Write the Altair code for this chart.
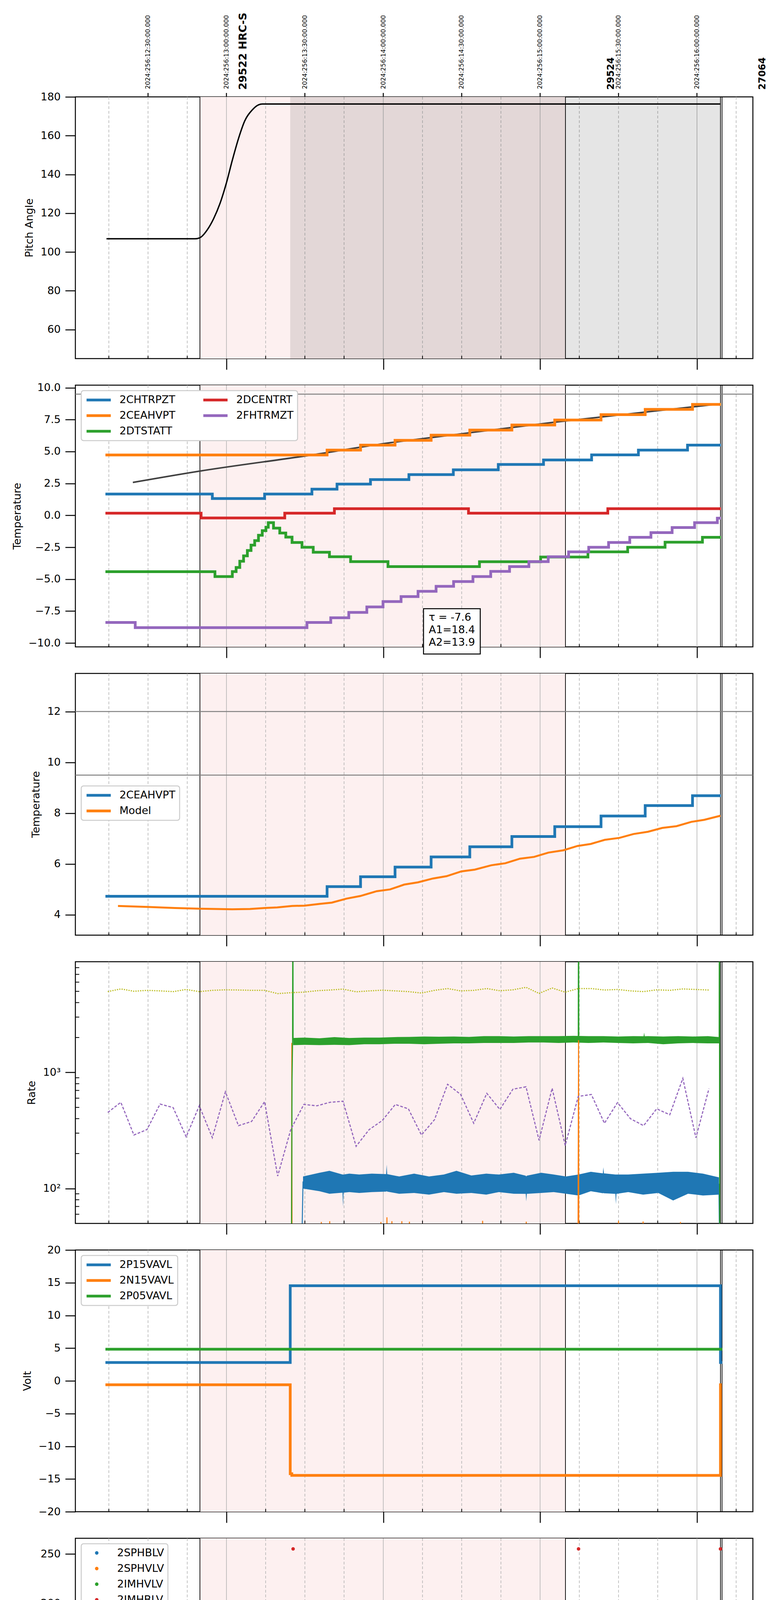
import altair as alt
import pandas as pd

FONT = "DejaVu Sans"
W, H = 1735, 670
X_DOMAIN = [2.2, 261.4]          # minutes after 08:00 local time

BLUE, ORANGE, GREEN, RED = "#1f77b4", "#ff7f0e", "#2ca02c", "#d62728"
PURPLE, OLIVE = "#9467bd", "#bcbd22"
PINK, GRID = "#fdf0f0", "#b0b0b0"

# ---------------- time axis ----------------
HOURS = [60, 120, 180, 240]
HOUR_LABELS = ["09h", "10h", "11h", "12h"]
QUARTERS = [15, 30, 45, 75, 90, 105, 135, 150, 165, 195, 210, 225, 255]
QUARTER_LABELS = ["15", "30", "45", "15", "30", "45", "15", "30", "45", "15", "30", "45", "15"]
HALF_HOURS = [30, 60, 90, 120, 150, 180, 210, 240]
TOP_LABELS = ["2024:256:12:30:00.000", "2024:256:13:00:00.000", "2024:256:13:30:00.000",
              "2024:256:14:00:00.000", "2024:256:14:30:00.000", "2024:256:15:00:00.000",
              "2024:256:15:30:00.000", "2024:256:16:00:00.000"]
OBSID_MAIN, OBSID_MAIN_T = ["29522 HRC-S"], [66.4]
OBSID_OTHER, OBSID_OTHER_T = ["29524", "27064"], [207.1, 265.2]
OBS_LINES = [49.85, 189.7, 249.0, 249.6]
SHADE_T, SHADE_T2 = [49.85], [189.7]
SLEW_T, SLEW_T2 = [84.4], [249.0]

# ---------------- panel 1: pitch ----------------
PITCH_T = [14.1, 48.0, 49.9, 52.7, 55.1, 57.5, 59.9, 62.3, 64.7, 67.0, 69.9, 72.3, 73.7, 249.0]
PITCH_V = [106.8, 106.8, 107.4, 111.5, 117.2, 124.9, 135.2, 147.6, 158.9, 167.6, 173.3, 175.9, 176.3, 176.3]

# ---------------- panel 2: temperatures ----------------
CHTRPZT_T = [13.7, 54.6, 74.6, 92.7, 102.3, 115.1, 129.8, 146.8, 164.0, 181.3, 199.7, 217.6, 236.4, 249.2]
CHTRPZT_V = [1.67, 1.32, 1.67, 2.05, 2.45, 2.80, 3.19, 3.57, 3.99, 4.34, 4.74, 5.11, 5.50, 5.50]
CEAHVPT_T = [13.7, 98.5, 111.3, 124.5, 138.3, 153.1, 169.2, 185.6, 203.3, 220.2, 238.3, 249.2]
CEAHVPT_V = [4.73, 5.11, 5.50, 5.88, 6.28, 6.68, 7.08, 7.47, 7.89, 8.30, 8.69, 8.69]
DTSTATT_T = [13.7, 55.6, 62.25, 63.7, 65.1, 66.55, 68.0, 69.4, 70.8, 72.25, 73.7, 75.1, 76.0, 78.0,
             80.4, 82.7, 85.1, 88.9, 93.2, 99.4, 107.5, 121.8, 156.8, 180.2, 198.3, 213.5, 227.8,
             242.1, 249.2]
DTSTATT_V = [-4.41, -4.79, -4.40, -4.08, -3.59, -3.17, -2.75, -2.33, -1.98, -1.56, -1.20, -0.93, -0.57,
             -1.00, -1.38, -1.70, -2.12, -2.50, -2.89, -3.24, -3.62, -4.01, -3.63, -3.26, -2.86, -2.50,
             -2.10, -1.72, -1.72]
DCENTRT_T = [13.7, 50.3, 82.3, 101.3, 152.6, 205.9, 249.2]
DCENTRT_V = [0.17, -0.20, 0.17, 0.52, 0.17, 0.52, 0.52]
FHTRMZT_T = [13.7, 25.1, 90.8, 99.9, 106.8, 113.7, 119.9, 126.8, 133.3, 140.2, 146.9, 154.3, 161.1,
             168.3, 175.7, 183.1, 190.9, 198.6, 206.2, 214.3, 222.4, 230.5, 239.1, 247.8, 249.2]
FHTRMZT_V = [-8.39, -8.79, -8.39, -8.02, -7.60, -7.17, -6.75, -6.36, -5.95, -5.56, -5.18, -4.79, -4.39,
             -4.01, -3.62, -3.24, -2.86, -2.50, -2.12, -1.72, -1.35, -0.95, -0.57, -0.22, -0.22]
TREND_T = [24.2, 49.85, 92.7, 123.0, 138.3, 185.6, 238.4, 246.9]
TREND_V = [2.58, 3.47, 4.73, 5.70, 6.09, 7.30, 8.50, 8.69]
FIT_TEXT = ["τ = -7.6", "A1=18.4", "A2=13.9"]
FIT_TEXT_T = [137.4, 137.4, 137.4]
FIT_TEXT_V = [-8.01, -8.99, -9.97]
FIT_BOX = (135.4, 157.1, -10.86, -7.31)

# ---------------- panel 3: model ----------------
MODEL_T = [18.5, 29.8, 40.3, 49.85, 62.2, 69.0, 74.6, 79.4, 85.1, 89.9, 95.6, 100.3, 106.0, 111.2,
           117.5, 122.6, 128.0, 133.3, 139.0, 144.2, 149.9, 155.0, 161.3, 166.7, 172.3, 177.7, 183.2,
           188.9, 194.3, 199.4, 204.7, 210.4, 215.7, 221.3, 226.7, 232.2, 237.9, 242.8, 249.0]
MODEL_V = [4.35, 4.31, 4.27, 4.24, 4.22, 4.23, 4.27, 4.29, 4.35, 4.36, 4.43, 4.48, 4.64, 4.74, 4.93,
           5.00, 5.19, 5.28, 5.43, 5.52, 5.71, 5.78, 5.95, 6.03, 6.21, 6.28, 6.45, 6.54, 6.71, 6.79,
           6.95, 7.03, 7.18, 7.27, 7.42, 7.49, 7.66, 7.74, 7.90]

# ---------------- panel 4: rates ----------------
TLEV_BAND_T = [89.3, 95.6, 99.4, 104.4, 104.6, 104.8, 107.0, 110.8, 115.6, 121.1, 121.3, 121.5, 126.1,
               131.8, 137.5, 143.2, 148.0, 153.7, 159.4, 164.2, 169.9, 174.5, 174.7, 174.9, 180.4,
               185.2, 189.9, 194.7, 199.4, 204.0, 204.2, 204.4, 208.8, 209.0, 209.2, 213.7, 219.4,
               225.2, 230.9, 236.6, 242.3, 248.4]
TLEV_BAND_HI = [127, 136.8, 142, 132, 131.9, 132, 134.3, 131.9, 134.3, 133, 160.6, 133, 127,
                134.3, 127, 131.9, 142, 129.4, 134.3, 131.9, 136.8, 129, 127, 129, 136.8, 131.9,
                127, 131.9, 139.3, 135, 152.3, 135, 132, 131.9, 132, 131.9, 134.3, 136.8, 139.3,
                139.3, 134.3, 124.7]
TLEV_BAND_LO = [99.8, 94.8, 90.1, 92, 69.5, 92, 93.2, 91.6, 93.2, 94, 94.8, 94, 90.1, 91.6, 88.6, 93.2,
                90.1, 91.6, 88.6, 93.2, 90.1, 90, 77.4, 90, 91.6, 93.2, 90.1, 87.1, 94.8, 91, 91.6, 91,
                90, 73.3, 90, 93.2, 88.6, 91.6, 78.8, 90.1, 87.1, 88.6]
SHEV_BAND_T = [85.5, 89.9, 95.6, 101.3, 107.0, 112.7, 118.5, 124.2, 129.9, 135.6, 141.3, 147.0, 152.8,
               158.5, 164.2, 169.9, 175.6, 181.4, 187.1, 192.8, 198.5, 204.2, 209.9, 215.6, 219.6,
               219.8, 220.0, 221.3, 227.1, 232.8, 238.5, 244.2, 248.6]
SHEV_BAND_HI = [1983, 1997, 1969, 2018, 1983, 1997, 1997, 2018, 2025, 2040, 2032, 2040, 2025, 2055,
                2055, 2040, 2055, 2055, 2055, 2069, 2055, 2055, 2040, 2055, 2050, 2206, 2050, 2055,
                2040, 2055, 2040, 2055, 2018]
SHEV_BAND_LO = [1719, 1731, 1719, 1731, 1719, 1750, 1750, 1768, 1768, 1750, 1768, 1781, 1781, 1794,
                1794, 1794, 1813, 1813, 1794, 1813, 1794, 1813, 1794, 1781, 1790, 1790, 1790, 1794,
                1750, 1781, 1794, 1781, 1781]
TLEV_EDGES = [([88.9, 89.3], [40, 115]), ([248.4, 248.6], [110, 40])]
VLEV_T = [84.9, 85.0, 85.1, 96.2, 96.3, 96.4, 99.4, 99.5, 99.6, 119.0, 119.1, 119.2, 121.3, 121.4,
          121.5, 123.2, 123.3, 123.4, 127.0, 127.1, 127.2, 129.9, 130.0, 130.1, 157.9, 158.0, 158.1,
          174.6, 174.7, 174.8, 194.5, 194.7, 194.8, 209.9, 210.0, 210.1, 219.3, 219.4, 219.5, 233.6,
          233.7, 233.8]
VLEV_V = [33, 1800, 33, 33, 51.5, 33, 33, 52.3, 33, 33, 51.5, 33, 33, 56.5, 33, 33, 52.3, 33, 33, 52.3,
          33, 33, 51.8, 33, 33, 52.7, 33, 33, 51.8, 33, 33, 1900, 33, 33, 52.7, 33, 33, 52.0, 33, 33,
          51.5, 33]
SHEV_EDGES = [([84.9, 85.1, 85.3, 85.4, 85.5], [45, 880, 1850, 1e5, 1900]),
              ([194.6, 194.7, 194.8], [1950, 1e5, 1950]),
              ([248.5, 248.6, 248.7], [1850, 1e5, 10])]
PROXY_T = [14.6, 19.6, 24.6, 29.6, 34.6, 39.6, 44.6, 49.6, 54.6, 59.6, 64.6, 69.6, 74.6, 79.6, 84.6,
           89.6, 94.6, 99.6, 104.6, 109.6, 114.6, 119.6, 124.6, 129.6, 134.6, 139.6, 144.6, 149.6,
           154.6, 159.6, 164.6, 169.6, 174.6, 179.6, 184.6, 189.6, 194.6, 199.6, 204.6, 209.6, 214.6,
           219.6, 224.6, 229.6, 234.6, 239.6, 244.6]
OLD_PROXY = [452, 553, 289, 322, 534, 498, 279, 516, 274, 681, 348, 378, 560, 128, 322, 530, 516, 553,
             565, 231, 322, 385, 530, 486, 289, 392, 791, 646, 365, 661, 480, 718, 752, 260, 731, 235,
             622, 646, 365, 550, 399, 348, 486, 432, 889, 274, 726]
NEW_PROXY = [4973, 5246, 5009, 5099, 5045, 4973, 5190, 4973, 5099, 5153, 5134, 5099, 5099, 4780, 4867,
             4920, 5063, 5134, 5227, 4955, 5045, 5117, 5045, 4973, 4832, 5099, 5284, 5045, 5099, 5284,
             5063, 5153, 5417, 4798, 5341, 4920, 5284, 5284, 5134, 5190, 5045, 4973, 5153, 5099, 5246,
             5190, 5134]
LOG_MINOR = [50, 60, 70, 80, 90, 200, 300, 400, 500, 600, 700, 800, 900,
             2000, 3000, 4000, 5000, 6000, 7000, 8000, 9000]

# ---------------- panel 5: voltages ----------------
P15_T, P15_V = [13.7, 84.4, 249.0, 249.7], [2.81, 14.53, 2.81, 2.81]
N15_T, N15_V = [13.7, 84.4, 85.0, 249.0, 249.5], [-0.60, -14.2, -14.45, -0.60, -0.60]
P05_T, P05_V = [13.7, 249.7], [4.83, 4.83]

# ---------------- panel 6: HV monitors ----------------
SPHBLV_T = [85.9, 86.3, 86.4, 87.0, 87.6, 88.2, 88.7]
SPHBLV_V = [118, 102, 101, 97.5, 93, 87, 82]
SPHBLV_RUN_T, SPHBLV_RUN_V = [89.0, 248.8], [77.3, 77.3]
SPHVLV_T = [85.7, 85.8, 86.3, 87.0, 87.6, 88.2, 88.7, 198.7, 204.2, 204.5, 231.3, 239.4]
SPHVLV_V = [127, 124, 96, 90.5, 85, 80, 75, 127, 127, 127, 127, 127]
SPHVLV_RUN_T, SPHVLV_RUN_V = [89.3, 248.8], [70.8, 70.8]
IMHBLV_T, IMHBLV_V = [85.5, 194.7, 249.0], [255.2, 255.2, 255.2]

# ---------------- panel 7: detector temps ----------------
SPINATM_T = [86.0, 86.4, 90.3, 95.6, 102.7, 114.1, 212.4, 248.6]
SPINATM_V = [4.70, 4.15, 3.65, 3.16, 2.68, 2.21, 2.68, 2.68]
SPHVATM_T = [84.7, 95.6, 100.0, 104.2, 108.6, 113.3, 118.1, 123.6, 129.5, 135.6, 142.7, 150.5, 158.5,
             168.0, 178.5, 189.9, 201.9, 214.7, 228.0, 241.9, 248.6]
SPHVATM_V = [12.97, 13.33, 13.66, 13.98, 14.31, 14.66, 14.99, 15.36, 15.69, 16.04, 16.37, 16.73, 17.10,
             17.41, 17.79, 18.14, 18.50, 18.86, 19.24, 19.58, 19.58]
IMINATM_T, IMINATM_V = [86.1, 245.2, 248.6], [0.36, 0.84, 0.84]
IMHVATM_T = [84.5, 84.7, 85.2, 99.7, 100.0, 102.2, 122.8, 136.9, 150.5, 164.8, 179.4, 194.6, 194.8,
             194.9, 209.0, 223.3, 238.1, 248.9, 249.1, 249.3]
IMHVATM_V = [-5.0, 12.39, 11.98, 12.40, 11.98, 12.31, 12.65, 12.99, 13.33, 13.66, 13.98, -5.0, 25.0,
             14.31, 14.66, 14.99, 15.36, -5.0, 25.0, 25.0]
SPINATM_NOISE = [(197.5, 206.1, -1.3, 2.21), (207.1, 211.8, -1.3, 2.21), (229.0, 230.3, -1.3, 2.68),
                 (230.9, 232.4, -1.3, 2.68), (236.2, 237.7, -1.3, 2.68), (238.5, 240.0, -1.3, 2.68)]
SPHVATM_NOISE = [(197.5, 206.1, 8.98, 18.3), (207.1, 211.8, 9.2, 18.5), (229.0, 230.0, 9.64, 19.24),
                 (231.0, 231.6, 9.64, 19.24), (232.2, 233.0, 9.64, 19.24), (234.3, 235.5, 9.64, 19.24),
                 (236.3, 237.0, 9.64, 19.24), (238.0, 240.0, 9.64, 19.24)]
IMINATM_NOISE = [(86.1, 106.1, -0.10, 0.40), (106.8, 107.4, -0.10, 0.40), (108.5, 109.0, -0.10, 0.40),
                 (110.8, 111.4, -0.10, 0.40), (124.4, 124.8, -0.10, 0.36), (133.9, 134.3, -0.10, 0.36),
                 (197.5, 206.1, 0.36, 2.29), (207.1, 211.8, 0.36, 2.29), (229.0, 230.3, 0.36, 2.76),
                 (230.9, 232.4, 0.36, 2.76), (236.2, 237.7, 0.36, 2.76), (238.5, 240.0, 0.36, 2.76)]
IMHVATM_NOISE = [(197.5, 206.1, 14.31, 18.5), (207.1, 211.8, 14.31, 18.5), (229.0, 230.3, 14.99, 19.24),
                 (230.9, 232.4, 14.99, 19.24), (233.2, 233.7, 14.99, 19.24), (236.2, 237.7, 14.99, 19.24),
                 (238.5, 240.0, 14.99, 19.24)]

# ---------------- panel 8: FEA temps ----------------
FRADPYT_T = [103.0, 103.2, 109.9, 116.6, 122.9, 129.9, 136.6, 144.2, 151.8, 158.9, 166.7, 174.7, 182.3,
             190.3, 198.5, 206.5, 215.3, 224.2, 232.8, 241.9, 249.5]
FRADPYT_V = [-10.0, -9.21, -8.80, -8.37, -7.98, -7.58, -7.17, -6.76, -6.38, -5.99, -5.58, -5.20, -4.81,
             -4.42, -4.03, -3.67, -3.27, -2.89, -2.51, -2.14, -2.14]
FEPRATM_T = [84.5, 84.7, 87.4, 89.9, 92.7, 95.6, 99.4, 104.2, 109.3, 115.0, 121.3, 127.6, 134.7, 141.7,
             149.0, 156.6, 164.2, 172.4, 180.8, 189.3, 194.6, 194.8, 197.5, 206.5, 216.0, 225.5, 235.6,
             245.2, 248.6]
FEPRATM_V = [-10.0, -8.96, -8.55, -8.10, -7.70, -7.27, -6.87, -6.46, -6.05, -5.62, -5.19, -4.78, -4.37,
             -3.95, -3.53, -3.11, -2.69, -2.26, -1.83, -1.41, -4.40, -1.41, -0.97, -0.53, -0.10, 0.35,
             0.80, 0.86, 0.86]
FE00ATM_T = [88.4, 88.6, 88.8, 95.2, 99.7, 100.1, 100.4, 105.1, 110.5, 115.0, 119.3, 119.6, 120.0,
             125.1, 130.3, 135.6, 140.8, 146.7, 152.2, 155.5, 155.8, 157.5, 163.2, 169.0, 175.2, 181.0,
             187.0, 193.7, 194.6, 194.8, 194.9, 199.4, 211.8, 213.2, 213.5, 219.0, 226.1, 232.8, 240.4,
             248.9, 249.1, 249.3]
FE00ATM_V = [-10, -9.2, -10, -9.29, -8.15, -9.29, -8.92, -8.55, -8.19, -7.84, -8.2, -7.84, -7.45, -7.11,
             -6.74, -6.40, -6.05, -5.69, -5.34, -5.0, -5.34, -4.98, -4.64, -4.28, -3.98, -3.62, -3.28,
             -2.94, -10, 2, -2.94, -2.61, -1.93, -2.9, -1.93, -1.61, -1.28, -0.61, -0.30, -10, 2, 2]
FEPRATM_NOISE = [(197.5, 206.1, -6.07, -0.97), (207.1, 211.8, -6.07, -0.53), (230.9, 232.4, -6.07, 0.35),
                 (233.2, 233.7, -6.07, 0.35), (239.1, 239.8, -6.07, 0.80)]
FE00ATM_NOISE = [(197.0, 206.1, -3.0, 2.0), (207.1, 211.8, -2.4, 2.0), (229.0, 230.3, -1.3, 2.0),
                 (231.3, 232.4, -1.3, 2.0), (233.2, 234.3, -0.7, 2.0), (235.1, 236.2, -0.7, 2.0),
                 (237.5, 240.0, -0.7, 2.0)]


# ======================= helpers =======================
def series_df(names, times, values):
    rows = []
    for n, ts, vs in zip(names, times, values):
        for t, v in zip(ts, vs):
            rows.append({"series": n, "t": t, "v": v})
    return pd.DataFrame(rows)


def box_df(names, boxes):
    rows = []
    for n, bl in zip(names, boxes):
        for (t, t2, lo, hi) in bl:
            rows.append({"series": n, "t": t, "t2": t2, "lo": lo, "hi": hi})
    return pd.DataFrame(rows)


HOUR_EXPR = " : ".join(f"datum.value == {h} ? '{l}'" for h, l in zip(HOURS[:-1], HOUR_LABELS[:-1])) \
    + f" : '{HOUR_LABELS[-1]}'"


def X(bottom=False):
    if bottom:
        ax = alt.Axis(values=HOURS, labelExpr=HOUR_EXPR, labelFontSize=27, labelPadding=4,
                      title="2024-09-12 (256)", titleFontSize=31, titlePadding=12)
    else:
        ax = alt.Axis(values=HOURS, labels=False, title=None)
    return alt.X("t:Q", scale=alt.Scale(domain=X_DOMAIN, nice=False, zero=False), axis=ax)


def Y(field, domain, title, values, fmt=None, expr=None, log=False):
    if log:
        sc = alt.Scale(type="log", domain=domain, nice=False)
    else:
        sc = alt.Scale(domain=domain, nice=False, zero=False)
    kw = dict(title=title, values=values)
    if fmt:
        kw["format"] = fmt
    if expr:
        kw["labelExpr"] = expr
    return alt.Y(f"{field}:Q", scale=sc, axis=alt.Axis(**kw))


LINE_SYMBOL = "M-1,0H5"
DOT_SYMBOL = "M1.135,0A0.435,0.435,0,1,1,2.005,0A0.435,0.435,0,1,1,1.135,0Z"


def legend(x, y, symbol=LINE_SYMBOL, columns=1, offset=60, sw=7):
    return alt.Legend(title=None, orient="none", legendX=x, legendY=y, symbolType=symbol,
                      symbolSize=428, labelOffset=offset, columns=columns, columnPadding=56,
                      symbolStrokeWidth=sw)


def color(domain, colors, leg=None):
    return alt.Color("series:N", scale=alt.Scale(domain=domain, range=colors), legend=leg)


def background(bottom):
    shade = alt.Chart(pd.DataFrame({"t": SHADE_T, "t2": SHADE_T2})).mark_rect(color=PINK).encode(
        x=X(bottom), x2="t2:Q")
    qgrid = alt.Chart(pd.DataFrame({"t": QUARTERS})).mark_rule(
        color=GRID, strokeWidth=1.5, strokeDash=[7, 5]).encode(x=X(bottom))
    hgrid = alt.Chart(pd.DataFrame({"t": HOURS})).mark_rule(color=GRID, strokeWidth=1.5).encode(x=X(bottom))
    minor = alt.Chart(pd.DataFrame({"t": QUARTERS})).mark_rule(color="black", strokeWidth=2).encode(
        x=X(bottom), y=alt.value(H - 7), y2=alt.value(H))
    obs = alt.Chart(pd.DataFrame({"t": OBS_LINES})).mark_rule(color="black", strokeWidth=1.8).encode(
        x=X(bottom))
    return [shade, qgrid, hgrid, minor, obs]


def panel(layers, bottom=False):
    return alt.layer(*background(bottom), *layers).properties(width=W, height=H)


# ======================= panel 1 =======================
y1 = lambda f: Y(f, [45, 180], "Pitch Angle", [60, 80, 100, 120, 140, 160, 180], "d")
p1 = panel([
    alt.Chart(pd.DataFrame({"t": SLEW_T, "t2": SLEW_T2})).mark_rect(color="black", opacity=0.1).encode(
        x=X(), x2="t2:Q"),
    alt.Chart(pd.DataFrame({"t": PITCH_T, "v": PITCH_V})).mark_line(
        color="black", strokeWidth=3.5, interpolate="monotone").encode(x=X(), y=y1("v")),
    alt.Chart(pd.DataFrame({"t": HALF_HOURS})).mark_rule(color="black", strokeWidth=2.5).encode(
        x=X(), y=alt.value(-10), y2=alt.value(0)),
    alt.Chart(pd.DataFrame({"t": HALF_HOURS, "lab": TOP_LABELS})).mark_text(
        angle=270, align="left", baseline="middle", fontSize=16).encode(
        x=X(), y=alt.value(-20), text="lab:N"),
    alt.Chart(pd.DataFrame({"t": OBSID_MAIN_T, "lab": OBSID_MAIN})).mark_text(
        angle=270, align="left", baseline="middle", fontSize=27, fontWeight="bold").encode(
        x=X(), y=alt.value(-18), text="lab:N"),
    alt.Chart(pd.DataFrame({"t": OBSID_OTHER_T, "lab": OBSID_OTHER})).mark_text(
        angle=270, align="left", baseline="middle", fontSize=24, fontWeight="bold").encode(
        x=X(), y=alt.value(-18), text="lab:N"),
])

# ======================= panel 2 =======================
y2 = lambda f: Y(f, [-10.3, 10.2], "Temperature", [-10, -7.5, -5, -2.5, 0, 2.5, 5, 7.5, 10], ".1f")
T_NAMES = ["2CHTRPZT", "2CEAHVPT", "2DTSTATT", "2DCENTRT", "2FHTRMZT"]
T_COLORS = [BLUE, ORANGE, GREEN, RED, PURPLE]
df2 = series_df(T_NAMES, [CHTRPZT_T, CEAHVPT_T, DTSTATT_T, DCENTRT_T, FHTRMZT_T],
                [CHTRPZT_V, CEAHVPT_V, DTSTATT_V, DCENTRT_V, FHTRMZT_V])
p2 = panel([
    alt.Chart(pd.DataFrame({"v": [9.5]})).mark_rule(color="#808080", strokeWidth=2.5).encode(y=y2("v")),
    alt.Chart(pd.DataFrame({"t": TREND_T, "v": TREND_V})).mark_line(
        color="#404040", strokeWidth=4, interpolate="monotone").encode(x=X(), y=y2("v")),
    alt.Chart(df2).mark_line(interpolate="step-after", strokeWidth=7, clip=True).encode(
        x=X(), y=y2("v"), color=color(T_NAMES, T_COLORS, legend(15, 14, columns=2))),
    alt.Chart(pd.DataFrame({"t": [FIT_BOX[0]], "t2": [FIT_BOX[1]], "lo": [FIT_BOX[2]], "hi": [FIT_BOX[3]]}))
    .mark_rect(fill="white", stroke="black", strokeWidth=2.5).encode(
        x=X(), x2="t2:Q", y=y2("lo"), y2="hi:Q"),
    alt.Chart(pd.DataFrame({"t": FIT_TEXT_T, "v": FIT_TEXT_V, "lab": FIT_TEXT})).mark_text(
        align="left", baseline="middle", fontSize=27).encode(x=X(), y=y2("v"), text="lab:N"),
])

# ======================= panel 3 =======================
y3 = lambda f: Y(f, [3.2, 13.5], "Temperature", [4, 6, 8, 10, 12], "d")
M_DOM, M_COL = ["2CEAHVPT", "Model"], [BLUE, ORANGE]
leg3 = legend(15, 288)
p3 = panel([
    alt.Chart(pd.DataFrame({"v": [12, 9.5]})).mark_rule(color="#808080", strokeWidth=2.5).encode(y=y3("v")),
    alt.Chart(series_df(["2CEAHVPT"], [CEAHVPT_T], [CEAHVPT_V])).mark_line(
        interpolate="step-after", strokeWidth=7).encode(x=X(), y=y3("v"), color=color(M_DOM, M_COL, leg3)),
    alt.Chart(series_df(["Model"], [MODEL_T], [MODEL_V])).mark_line(strokeWidth=5).encode(
        x=X(), y=y3("v"), color=color(M_DOM, M_COL, leg3)),
])

# ======================= panel 4 =======================
y4 = lambda f: Y(f, [50, 9000], "Rate", [100, 1000], expr="datum.value == 100 ? '10²' : '10³'", log=True)
R_DOM = ["2TLEV1RT (110)", "2VLEV1RT (33)", "2SHEV1RT (1,891)", "Old Proxy", "New Proxy"]
R_COL = [BLUE, ORANGE, GREEN, PURPLE, OLIVE]
leg4 = legend(15, 438, sw=5)
band_rows = []
for n, ts, los, his in [(R_DOM[0], TLEV_BAND_T, TLEV_BAND_LO, TLEV_BAND_HI),
                        (R_DOM[2], SHEV_BAND_T, SHEV_BAND_LO, SHEV_BAND_HI)]:
    for t, lo, hi in zip(ts, los, his):
        band_rows.append({"series": n, "t": t, "lo": lo, "hi": hi})
band_df = pd.DataFrame(band_rows)
line_rows = []
seg_list = [(R_DOM[0], ts, vs) for ts, vs in TLEV_EDGES] + [(R_DOM[1], VLEV_T, VLEV_V)] + \
           [(R_DOM[2], ts, vs) for ts, vs in SHEV_EDGES] + \
           [(R_DOM[3], PROXY_T, OLD_PROXY), (R_DOM[4], PROXY_T, NEW_PROXY)]
for i, (n, ts, vs) in enumerate(seg_list):
    for t, v in zip(ts, vs):
        line_rows.append({"series": n, "seg": i, "t": t, "v": v})
rate_df = pd.DataFrame(line_rows)
p4 = panel([
    alt.Chart(pd.DataFrame({"v": LOG_MINOR})).mark_rule(color="black", strokeWidth=2).encode(
        y=y4("v"), x=alt.value(0), x2=alt.value(10)),
    alt.Chart(band_df).mark_area(clip=True, opacity=1).encode(
        x=X(), y=y4("lo"), y2="hi:Q", color=color(R_DOM, R_COL, None)),
    alt.Chart(rate_df).mark_line(clip=True).encode(
        x=X(), y=y4("v"), detail="seg:N",
        color=color(R_DOM, R_COL, leg4),
        strokeDash=alt.StrokeDash("series:N", scale=alt.Scale(
            domain=R_DOM, range=[[1, 0], [1, 0], [1, 0], [7, 4], [3, 3]]), legend=leg4),
        strokeWidth=alt.StrokeWidth("series:N", scale=alt.Scale(
            domain=R_DOM, range=[2.5, 3, 2.5, 1.8, 2.2]), legend=None)),
])

# ======================= panel 5 =======================
y5 = lambda f: Y(f, [-20, 20], "Volt", [-20, -15, -10, -5, 0, 5, 10, 15, 20], "d")
V_DOM, V_COL = ["2P15VAVL", "2N15VAVL", "2P05VAVL"], [BLUE, ORANGE, GREEN]
p5 = panel([
    alt.Chart(series_df(V_DOM, [P15_T, N15_T, P05_T], [P15_V, N15_V, P05_V])).mark_line(
        interpolate="step-after", strokeWidth=7).encode(
        x=X(), y=y5("v"), color=color(V_DOM, V_COL, legend(15, 14))),
])

# ======================= panel 6 =======================
y6 = lambda f: Y(f, [0, 266], "HV Monitor", [0, 50, 100, 150, 200, 250], "d")
HV_DOM, HV_COL = ["2SPHBLV", "2SPHVLV", "2IMHVLV", "2IMHBLV"], [BLUE, ORANGE, GREEN, RED]
p6 = panel([
    alt.Chart(pd.DataFrame({"t": SPHBLV_RUN_T, "v": SPHBLV_RUN_V})).mark_line(
        color=BLUE, strokeWidth=12, strokeCap="round").encode(x=X(), y=y6("v")),
    alt.Chart(pd.DataFrame({"t": SPHVLV_RUN_T, "v": SPHVLV_RUN_V})).mark_line(
        color=ORANGE, strokeWidth=11, strokeCap="round").encode(x=X(), y=y6("v")),
    alt.Chart(series_df(["2SPHBLV", "2SPHVLV", "2IMHBLV"], [SPHBLV_T, SPHVLV_T, IMHBLV_T],
                        [SPHBLV_V, SPHVLV_V, IMHBLV_V])).mark_point(filled=True, size=80, opacity=1).encode(
        x=X(), y=y6("v"), color=color(HV_DOM, HV_COL, legend(15, 14, symbol=DOT_SYMBOL, offset=55, sw=0))),
])

# ======================= panel 7 =======================
y7 = lambda f: Y(f, [-1.16, 20.0], "Detector Temp", [0, 2.5, 5, 7.5, 10, 12.5, 15, 17.5], ".1f")
D_DOM, D_COL = ["2SPINATM", "2SPHVATM", "2IMINATM", "2IMHVATM"], [BLUE, ORANGE, GREEN, RED]
p7 = panel([
    alt.Chart(series_df(D_DOM, [SPINATM_T, SPHVATM_T, IMINATM_T, IMHVATM_T],
                        [SPINATM_V, SPHVATM_V, IMINATM_V, IMHVATM_V])).mark_line(
        interpolate="step-after", strokeWidth=6, clip=True).encode(
        x=X(), y=y7("v"), color=color(D_DOM, D_COL, legend(15, 13))),
    alt.Chart(box_df(D_DOM, [SPINATM_NOISE, SPHVATM_NOISE, IMINATM_NOISE, IMHVATM_NOISE])).mark_rect(
        clip=True).encode(x=X(), x2="t2:Q", y=y7("lo"), y2="hi:Q", color=color(D_DOM, D_COL, None)),
])

# ======================= panel 8 =======================
y8 = lambda f: Y(f, [-9.5, 0.97], "FEA Temp", [-8, -6, -4, -2, 0], "d")
F_DOM, F_COL = ["2FHTRMZT", "2FRADPYT", "2FEPRATM", "2FE00ATM"], [BLUE, ORANGE, GREEN, RED]
p8 = panel([
    alt.Chart(series_df(F_DOM, [FHTRMZT_T, FRADPYT_T, FEPRATM_T, FE00ATM_T],
                        [FHTRMZT_V, FRADPYT_V, FEPRATM_V, FE00ATM_V])).mark_line(
        interpolate="step-after", strokeWidth=7, clip=True).encode(
        x=X(True), y=y8("v"), color=color(F_DOM, F_COL, legend(15, 12))),
    alt.Chart(box_df(["2FEPRATM", "2FE00ATM"], [FEPRATM_NOISE, FE00ATM_NOISE])).mark_rect(
        clip=True).encode(x=X(True), x2="t2:Q", y=y8("lo"), y2="hi:Q", color=color(F_DOM, F_COL, None)),
    alt.Chart(pd.DataFrame({"t": QUARTERS, "lab": QUARTER_LABELS})).mark_text(
        fontSize=18, baseline="middle", align="center").encode(x=X(True), y=alt.value(H + 14), text="lab:N"),
], bottom=True)

chart = alt.vconcat(p1, p2, p3, p4, p5, p6, p7, p8, spacing=68, bounds="flush").resolve_scale(
    color="independent", strokeDash="independent", strokeWidth="independent"
).properties(
    padding={"left": 21, "top": 22, "right": 10, "bottom": 5}
).configure(font=FONT).configure_view(
    stroke="black", strokeWidth=2.5
).configure_axis(
    labelFont=FONT, titleFont=FONT, labelColor="black", titleColor="black", tickColor="black",
    tickWidth=2.5, domain=False, grid=False, labelFontSize=27, titleFontSize=27, titleFontWeight="normal"
).configure_axisY(
    tickSize=26, labelPadding=12, titlePadding=14
).configure_axisX(
    tickSize=28, labelPadding=4, titlePadding=12
).configure_legend(
    fillColor="white", strokeColor="#cccccc", strokeWidth=2.5, cornerRadius=6, padding=10,
    labelFont=FONT, labelFontSize=27, labelColor="black", rowPadding=12, labelLimit=600
)

chart.save("out.html", embed_options={"renderer": "svg", "actions": False})
